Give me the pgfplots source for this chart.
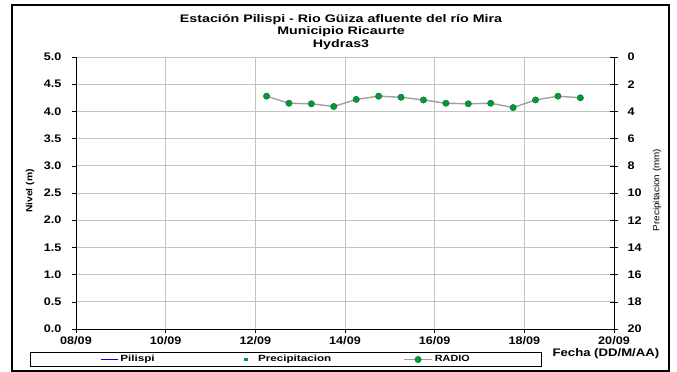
\documentclass[border=0pt]{standalone}
\usepackage{fontspec}
\setmainfont{Liberation Sans}
% Excel-like wide bold text
\newfontfamily\fTick[FakeStretch=1.15]{Liberation Sans}
\newfontfamily\fTitle[FakeStretch=1.3]{Liberation Sans}
\newfontfamily\fFecha[FakeStretch=1.2]{Liberation Sans}
\newfontfamily\fPrec[FakeStretch=1.1]{Liberation Sans}
\usepackage{graphicx}
\usepackage{pgfplots}
\pgfplotsset{compat=1.18}
\definecolor{gridgray}{RGB}{195,195,195}
\definecolor{linegray}{RGB}{160,160,160}
\definecolor{mkgreen}{RGB}{0,155,55}
\definecolor{mkedge}{RGB}{0,115,35}
\definecolor{pilblue}{RGB}{0,0,255}
\pgfplotsset{longleg/.style={legend image code/.code={\draw[mark repeat=2, mark phase=2, ##1]
    plot coordinates {(0cm,0cm) (0.5cm,0cm) (1cm,0cm)};}}}

\begin{document}
\begin{tikzpicture}
% page and outer frame
\path[use as bounding box] (-76bp,-43bp) rectangle (601bp,329bp);
\draw[line width=1.6bp] (-64bp,-42bp) rectangle (593bp,324bp);

\begin{axis}[
  scale only axis, width=538bp, height=272bp, clip=false,
  xmin=8, xmax=20, ymin=0, ymax=5,
  axis x line*=bottom, axis y line*=left,
  axis line style={black, line width=0.8pt, -},
  xtick={8,10,...,20},
  xticklabels={08/09,10/09,12/09,14/09,16/09,18/09,20/09},
  ytick={0,0.5,1,1.5,2,2.5,3,3.5,4,4.5,5},
  /pgf/number format/assume math mode=true,
  yticklabel style={/pgf/number format/fixed, /pgf/number format/fixed zerofill,
    /pgf/number format/precision=1, xshift=-7bp},
  ticklabel style={font=\fTick\bfseries\fontsize{11}{12}\selectfont},
  tick align=outside, major tick length=4bp,
  tick style={black, line width=0.6pt},
  grid=major, major grid style={gridgray, line width=0.8pt},
  ylabel={Nivel (m)},
  every axis y label/.style={at={(axis description cs:-0.0855,0.507)}, rotate=90,
    anchor=center, font=\fTick\bfseries\fontsize{9}{10}\selectfont},
  xlabel={Fecha (DD/M/AA)},
  every axis x label/.style={at={(axis description cs:0.985,-0.092)},
    anchor=center, font=\fFecha\bfseries\fontsize{11}{12}\selectfont},
  legend columns=3,
  legend style={at={(-0.0856,-0.0846)}, anchor=north west,
    draw=black, line width=0.6pt, inner xsep=70bp, inner ysep=1.2bp,
    font=\bfseries\fontsize{9}{10}\selectfont,
    /tikz/column 2/.style={column sep=88bp},
    /tikz/column 3/.style={column sep=9bp},
    /tikz/column 4/.style={column sep=70bp}},
]
\node[align=center, font=\fTitle\bfseries\fontsize{11}{11}\selectfont, anchor=center]
  at (axis description cs:0.4926,1.092)
  {Estación Pilispi - Rio Güiza afluente del río Mira\\[1.5bp]Municipio Ricaurte\\[1.5bp]Hydras3};
\addlegendimage{legend image code/.code={\draw[pilblue, line width=1.1pt] (0cm,0cm) -- (0.6cm,0cm);}}
\addlegendentry{\scalebox{1.3}[1]{Pilispi}}
\addlegendimage{only marks, mark=square*, mark size=1.2pt, mkgreen}
\addlegendentry{\scalebox{1.3}[1]{Precipitacion}}
\addplot[linegray, line width=1.4pt, mark=*, mark size=3.2pt,
  mark options={fill=mkgreen, draw=mkedge, line width=0.4pt}, longleg] coordinates {
  (12.25,4.28) (12.75,4.15) (13.25,4.14) (13.75,4.09) (14.25,4.22)
  (14.75,4.28) (15.25,4.26) (15.75,4.21) (16.25,4.15) (16.75,4.14)
  (17.25,4.15) (17.75,4.07) (18.25,4.21) (18.75,4.28) (19.25,4.25)};
\addlegendentry{\scalebox{1.2}[1]{RADIO}}
\end{axis}

\begin{axis}[
  scale only axis, width=538bp, height=272bp,
  xmin=8, xmax=20, ymin=0, ymax=20, y dir=reverse,
  axis x line=none, axis y line*=right,
  axis line style={black, line width=0.8pt, -},
  ytick={0,2,...,20},
  /pgf/number format/assume math mode=true,
  ticklabel style={font=\fTick\bfseries\fontsize{11}{12}\selectfont},
  yticklabel style={xshift=6bp},
  tick align=center, major tick length=8bp,
  tick style={black, line width=0.6pt},
  ylabel={Precipitacion (mm)},
  every axis y label/.style={at={(axis description cs:1.080,0.511)}, rotate=90,
    anchor=center, font=\fPrec\fontsize{9}{10}\selectfont},
]
\end{axis}
\end{tikzpicture}
\end{document}
